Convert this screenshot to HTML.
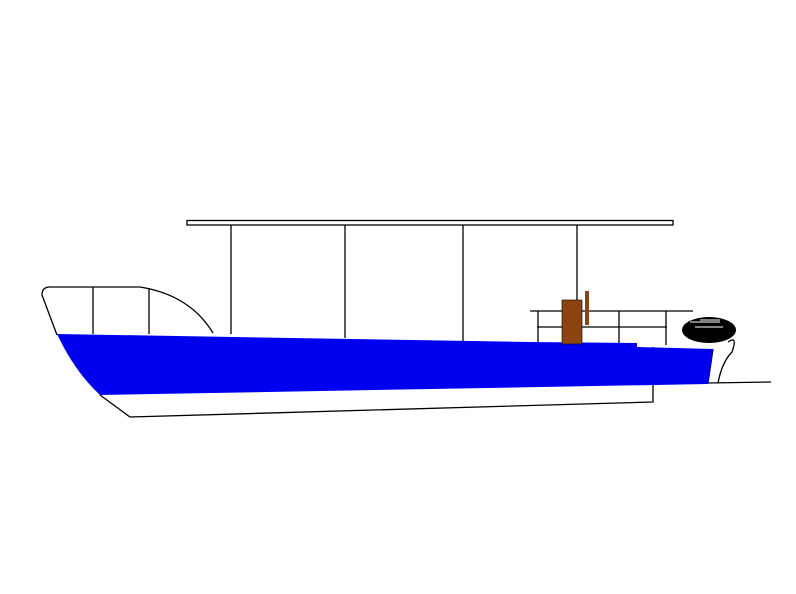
<!DOCTYPE html>
<html><head><style>body{margin:0;background:#fff}</style></head><body>
<svg width="796" height="589" viewBox="0 0 796 589" xmlns="http://www.w3.org/2000/svg">
<rect width="796" height="589" fill="#fff"/>
<g stroke="#000" stroke-width="1.3" fill="none">
<rect x="187" y="220.5" width="486" height="4.5"/>
<line x1="231" y1="225" x2="231" y2="334"/>
<line x1="345" y1="225" x2="345" y2="338"/>
<line x1="463" y1="225" x2="463" y2="341"/>
<line x1="577" y1="225" x2="577" y2="343"/>
<path d="M57,335 L42,295 Q42,287 50,287 L140,287 Q190,295 213,333"/>
<line x1="93" y1="287" x2="93" y2="334"/>
<line x1="149" y1="288" x2="149" y2="334"/>
<path d="M100,395 L130,417 L653,402 L653,347"/>
<path d="M713,349 L708,383 L771,382"/>
<path d="M728,342 Q738,335 732,352 Q722,362 718,383"/>
<line x1="530" y1="311" x2="693" y2="311"/>
<line x1="537" y1="327" x2="667" y2="327"/>
<line x1="538" y1="311" x2="538" y2="343"/>
<line x1="619" y1="311" x2="619" y2="344"/>
<line x1="666" y1="311" x2="666" y2="345"/>
</g>
<path d="M57,334 L530,342 L637,343 L637,347 L713,349 L708,384 L100,395 Q75,372 57,334 Z" fill="#0000f0"/>
<rect x="562" y="300" width="20" height="44" fill="#8b4513" stroke="#000" stroke-width="0.6"/>
<rect x="585" y="291" width="4" height="34" fill="#8b4513"/>
<ellipse cx="709" cy="330" rx="27" ry="13" fill="#000"/>
<path d="M690,322 h30 M695,327 h28 M700,320 h20" stroke="#fff" stroke-width="1"/>
</svg>
</body></html>
